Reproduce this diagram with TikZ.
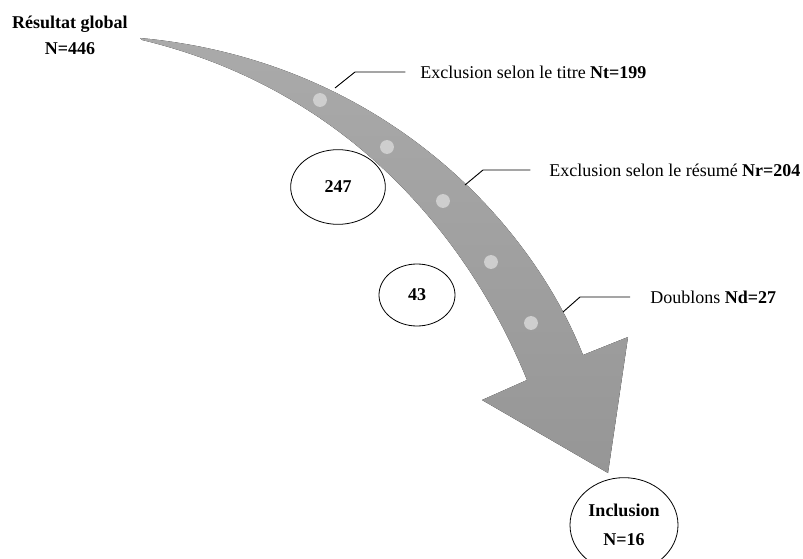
\documentclass[tikz,border=0pt]{standalone}
\usepackage{fontspec}
\setmainfont{Liberation Serif}
\usetikzlibrary{shapes.geometric}

\definecolor{arrowtop}{RGB}{170,170,170}
\definecolor{arrowbot}{RGB}{150,150,150}
\definecolor{dotgrey}{RGB}{206,206,206}

\tikzset{
  bubble/.style={draw, ellipse, inner sep=0pt, line width=0.6pt, font=\fontsize{13.5}{16}\selectfont\bfseries},
  leader/.style={draw, line width=0.7pt},
  dot/.style={fill=dotgrey},
}

\begin{document}
\begin{tikzpicture}[x=0.75pt,y=-0.75pt,font=\fontsize{13.5}{16}\selectfont]
\useasboundingbox (0,0) rectangle (803,559);

% the big bent arrow
\fill[top color=arrowtop, bottom color=arrowbot]
  (140,38) .. controls (380,60) and (530,220) .. (583,355) -- (628,337) -- (608,473)
  -- (482,400) -- (527,380) .. controls (470,240) and (350,90) .. (142,40) -- cycle;
\foreach \p in {(320,100),(387,147),(443,201),(491,262),(531,323)}
  \fill[dot] \p circle [radius=5.2pt];

\node[align=center, font=\fontsize{13.5}{16}\selectfont\bfseries] (global) at (70,35) {Résultat global\\[3.5pt]N=446};

\node[bubble, minimum width=71pt, minimum height=56pt] (n247) at (338,187) {247};
\node[bubble, minimum width=57pt, minimum height=46.5pt] (n43) at (417,295) {43};
\node[bubble, minimum width=81pt, minimum height=71pt, align=center] (incl) at (624,525) {Inclusion\\[6pt]N=16};

\coordinate (c1) at (335,88);
\coordinate (c2) at (465,185);
\coordinate (c3) at (563,312);

\node[anchor=west, inner sep=0pt] (titre) at (420,72) {Exclusion selon le titre \textbf{Nt=199}};
\node[anchor=west, inner sep=0pt] (resume) at (549,170) {Exclusion selon le résumé \textbf{Nr=204}};
\node[anchor=west, inner sep=0pt] (doublons) at (650,297) {Doublons \textbf{Nd=27}};

\draw[leader] (c1) -- ++(20,-16) -- ([xshift=-11pt]titre.west);
\draw[leader] (c2) -- ++(18,-15) -- ([xshift=-14pt]resume.west);
\draw[leader] (c3) -- ++(17,-15) -- ([xshift=-15pt]doublons.west);
\end{tikzpicture}
\end{document}
